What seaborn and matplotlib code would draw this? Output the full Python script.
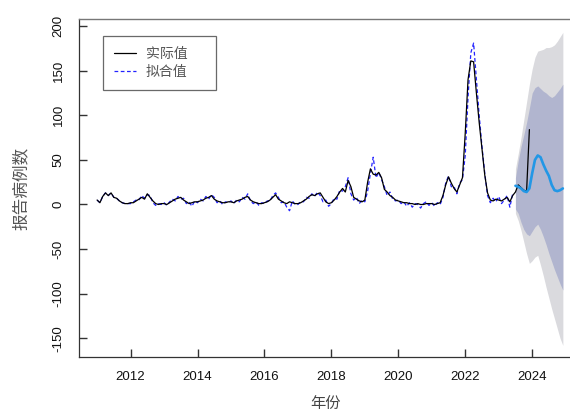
import numpy as np
import pandas as pd
import matplotlib
matplotlib.use("Agg")
import matplotlib.pyplot as plt
import seaborn as sns

sns.set_style("white", {"xtick.bottom": True, "ytick.left": True})
plt.rcParams["font.family"] = ["Liberation Sans", "Noto Sans CJK SC", "DejaVu Sans"]

# Monthly reported cases, Jan 2011 - Dec 2023
actual = [
    5, 2, 9, 13, 10, 13, 8, 7, 4, 2, 1, 1,            # 2011
    2, 2, 4, 6, 8, 6, 12, 8, 4, 1, 0, 1,              # 2012
    1, 0, 2, 4, 6, 7, 8, 5, 3, 1, 2, 3,               # 2013
    3, 4, 5, 7, 8, 10, 6, 4, 3, 2, 2, 3,              # 2014
    3, 2, 4, 5, 6, 8, 9, 5, 3, 2, 1, 1,               # 2015
    2, 3, 5, 8, 11, 6, 4, 2, 1, 3, 2, 1,              # 2016
    1, 2, 4, 6, 9, 11, 10, 12, 13, 8, 3, 1,           # 2017
    2, 5, 9, 14, 18, 14, 27, 20, 8, 6, 4, 3,          # 2018
    5, 25, 40, 34, 33, 36, 30, 17, 14, 10, 8, 5,      # 2019
    4, 3, 2, 2, 1, 1, 0, 1, 0, 0, 1, 1,               # 2020
    1, 0, 1, 2, 10, 22, 31, 24, 18, 14, 22, 30,       # 2021
    80, 140, 161, 160, 125, 92, 62, 33, 13, 5, 4, 6,  # 2022
    5, 4, 6, 8, 3, 10, 14, 22, 19, 16, 15, 84,        # 2023
]

# Model fitted values, Jan 2011 - Jun 2023
fitted = [
    5, 2, 9, 13, 10, 13, 8, 7, 4, 2, 1, 1,
    1, 3, 5, 5, 10, 7, 11, 10, 2, -1, 1, 0,
    2, -1, 3, 6, 4, 9, 6, 7, 1, 3, -2, 4,
    2, 6, 4, 9, 6, 11, 8, 2, 4, 0, 3, 2,
    4, 1, 5, 3, 8, 6, 12, 4, 1, 3, -1, 2,
    1, 4, 4, 10, 13, 8, 2, 3, -3, -7, 4, 0,
    0, 3, 3, 8, 7, 12, 9, 14, 10, 3, 5, -2,
    1, 7, 6, 16, 15, 20, 30, 12, 5, 8, 1, 5,
    3, 15, 35, 53, 30, 36, 28, 20, 10, 14, 6, 4,
    5, 1, 3, -2, 2, -3, 1, 0, -4, 1, 3, -1,
    2, -2, 2, 0, 8, 24, 32, 20, 20, 12, 24, 28,
    55, 120, 170, 181, 140, 100, 65, 35, 10, 2, 7, 3,
    9, 1, 5, 10, -3, 12,
]

# Forecast, Jul 2023 - Dec 2024: point forecast with 80% and 95% intervals
fc_mean = [21, 20, 18, 15, 14, 18, 35, 50, 55, 53, 45, 38, 32, 22, 16, 15, 16, 18]
fc_lo80 = [-5, -10, -20, -28, -33, -35, -30, -25, -22, -28, -36, -45, -55, -64, -73, -81, -89, -96]
fc_hi80 = [30, 49, 65, 78, 92, 108, 125, 131, 133, 130, 127, 125, 122, 120, 122, 126, 130, 135]
fc_lo95 = [-10, -18, -29, -42, -55, -66, -63, -59, -57, -68, -80, -93, -105, -117, -128, -139, -150, -158]
fc_hi95 = [40, 57, 75, 95, 115, 135, 152, 165, 172, 173, 174, 176, 176, 177, 179, 183, 188, 193]

x_ticks = [2012, 2014, 2016, 2018, 2020, 2022, 2024]
y_ticks = [-150, -100, -50, 0, 50, 100, 150, 200]


def decimal_years(start, n):
    months = pd.date_range(start, periods=n, freq="MS")
    return months.year + (months.month - 1) / 12.0


obs = pd.DataFrame({"t": decimal_years("2011-01-01", len(actual)), "v": actual})
fit = pd.DataFrame({"t": decimal_years("2011-01-01", len(fitted)), "v": fitted})
fc = pd.DataFrame({
    "t": decimal_years("2023-07-01", len(fc_mean)),
    "mean": fc_mean, "lo80": fc_lo80, "hi80": fc_hi80,
    "lo95": fc_lo95, "hi95": fc_hi95,
})

fig = plt.figure(figsize=(5.70, 4.12), dpi=100)
ax = fig.add_axes([78.7 / 570, 55 / 412, (572 - 78.7) / 570, (357 - 19) / 412])

ax.fill_between(fc["t"], fc["lo95"], fc["hi95"], color="#DADADE", lw=0, zorder=1)
ax.fill_between(fc["t"], fc["lo80"], fc["hi80"], color="#B1B5CF", lw=0, zorder=2)

sns.lineplot(data=obs, x="t", y="v", ax=ax, color="black", lw=0.9,
             label="实际值", zorder=4)
sns.lineplot(data=fit, x="t", y="v", ax=ax, color="#2222FF", lw=0.9,
             linestyle=(0, (3, 2)), label="拟合值", zorder=3)
sns.lineplot(data=fc, x="t", y="mean", ax=ax, color="#2297E6", lw=1.9,
             legend=False, zorder=5)

ax.set_xlim(2010.45, 2025.19)
ax.set_ylim(-171, 208)
ax.set_xticks(x_ticks)
ax.set_xticklabels([str(v) for v in x_ticks])
ax.set_yticks(y_ticks)
ax.set_yticklabels([str(v) for v in y_ticks], rotation=90, va="center")
ax.tick_params(axis="both", which="major", bottom=True, left=True,
               direction="in", length=6, width=1.0,
               colors="#333333", labelcolor="#111111", labelsize=9.5)
ax.tick_params(axis="x", pad=10)
ax.tick_params(axis="y", pad=10)

for side in ("left", "bottom"):
    ax.spines[side].set_color("#333333")
    ax.spines[side].set_linewidth(0.9)
ax.spines["top"].set_color("#777777")
ax.spines["top"].set_linewidth(1.0)
ax.spines["right"].set_visible(False)

ax.set_xlabel("年份", fontsize=11, color="#444444", labelpad=10)
ax.set_ylabel("报告病例数", fontsize=12, color="#555555", labelpad=17)

leg = ax.legend(loc="upper left", bbox_to_anchor=(0.049, 0.5, 0.229, 0.45),
                mode="expand", frameon=True,
                fancybox=False, edgecolor="#444444", fontsize=10,
                handlelength=1.6, borderpad=0.8, labelspacing=0.3,
                handletextpad=0.7, borderaxespad=0)
leg.get_frame().set_linewidth(0.9)
for txt in leg.get_texts():
    txt.set_color("#555555")
    txt.set_fontfamily(["Noto Sans CJK SC"])

fig.savefig("out.png", dpi=100)
